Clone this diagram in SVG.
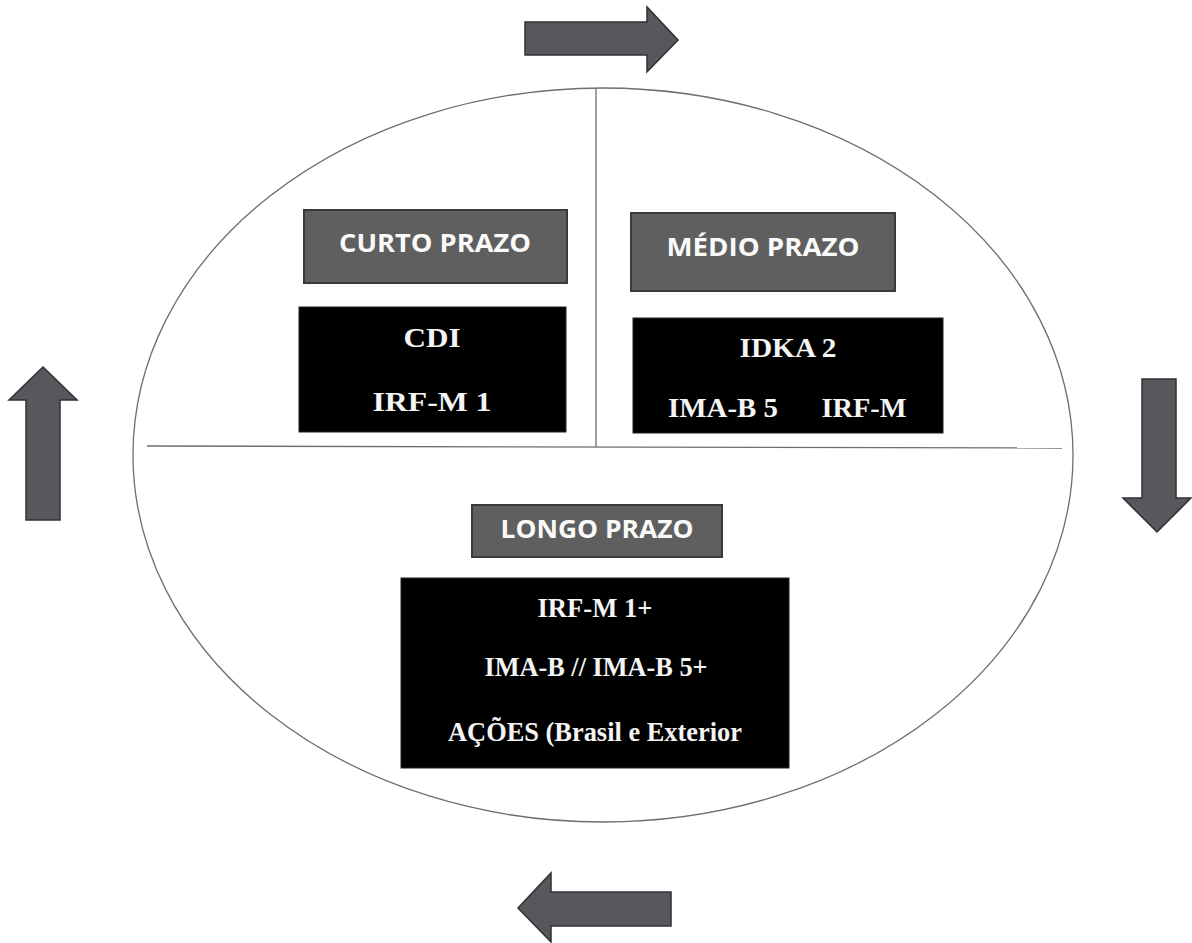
<svg xmlns="http://www.w3.org/2000/svg" width="1192" height="943" viewBox="0 0 1192 943">
<style>
.arrow{fill:#56585c;stroke:#2e3034;stroke-width:1.5}
.hdr{fill:#5f5f5f;stroke:#3a3a3a;stroke-width:2}
.blk{fill:#000;stroke:#222;stroke-width:1}
.ht{font-family:"Open Sans","Liberation Sans",sans-serif;font-weight:700;font-size:25px;fill:#fafafa;text-anchor:middle}
.bt{font-family:"Liberation Serif","Times New Roman",serif;font-weight:bold;font-size:27px;fill:#f4f4f4;text-anchor:middle}
.ln{stroke:#6e6e6e;stroke-width:1.3;fill:none}
</style>
<rect width="1192" height="943" fill="#fff"/>
<g id="connectors">
<ellipse class="ln" cx="603" cy="455" rx="470" ry="367"/>
<line class="ln" x1="596" y1="88" x2="596" y2="447"/>
<line class="ln" x1="147" y1="446" x2="1062" y2="448"/>
<polygon id="arrow-right" class="arrow" points="525,22 647,22 647,7 678,40 647,72 647,55 525,55"/>
<polygon id="arrow-down" class="arrow" points="1142,379 1176,379 1176,498 1191,498 1157,532 1123,498 1142,498"/>
<polygon id="arrow-left" class="arrow" points="671,892 671,926 551,926 551,942 518,908 551,873 551,892"/>
<polygon id="arrow-up" class="arrow" points="26,520 60,520 60,400 77,400 43,367 9,400 26,400"/>
</g>
<g id="curto-header">
<rect class="hdr" x="304" y="210" width="263" height="73"/>
<text class="ht" x="435" y="252" textLength="192" lengthAdjust="spacingAndGlyphs">CURTO PRAZO</text>
</g>
<g id="medio-header">
<rect class="hdr" x="631" y="213" width="264" height="78"/>
<text class="ht" x="763" y="256" textLength="193" lengthAdjust="spacingAndGlyphs">MÉDIO PRAZO</text>
</g>
<g id="curto-box">
<rect class="blk" x="299" y="307" width="267" height="125"/>
<text class="bt" x="432" y="347" textLength="57" lengthAdjust="spacingAndGlyphs">CDI</text>
<text class="bt" x="432" y="411" textLength="119" lengthAdjust="spacingAndGlyphs">IRF-M 1</text>
</g>
<g id="medio-box">
<rect class="blk" x="633" y="318" width="310" height="115"/>
<text class="bt" x="788" y="357" textLength="97" lengthAdjust="spacingAndGlyphs">IDKA 2</text>
<text class="bt" x="723" y="417" textLength="110" lengthAdjust="spacingAndGlyphs">IMA-B 5</text>
<text class="bt" x="864" y="417" textLength="85" lengthAdjust="spacingAndGlyphs">IRF-M</text>
</g>
<g id="longo-header">
<rect class="hdr" x="472" y="505" width="250" height="52"/>
<text class="ht" x="597" y="538" textLength="193" lengthAdjust="spacingAndGlyphs">LONGO PRAZO</text>
</g>
<g id="longo-box">
<rect class="blk" x="401" y="578" width="388" height="190"/>
<text class="bt" x="595" y="617" textLength="115" lengthAdjust="spacingAndGlyphs">IRF-M 1+</text>
<text class="bt" x="596" y="676" textLength="223" lengthAdjust="spacingAndGlyphs">IMA-B // IMA-B 5+</text>
<text class="bt" x="595" y="741" textLength="294" lengthAdjust="spacingAndGlyphs">AÇÕES (Brasil e Exterior</text>
</g>
</svg>
